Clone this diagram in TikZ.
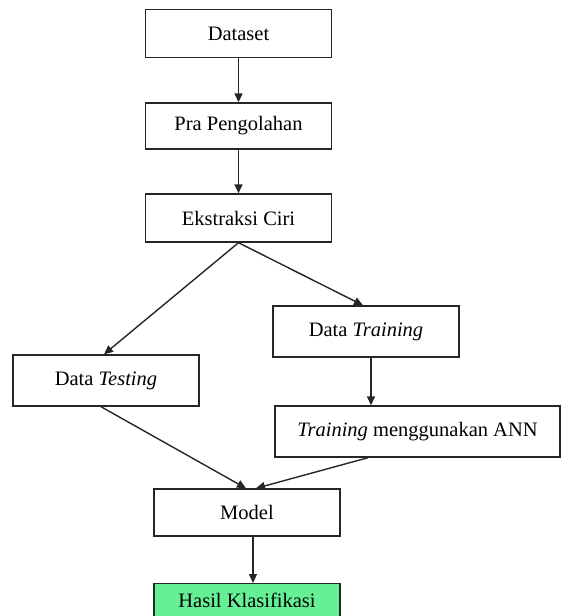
\documentclass[tikz,border=0pt]{standalone}
\usepackage{fontspec}
\setmainfont{Liberation Serif}
\usetikzlibrary{arrows.meta,calc}
\begin{document}
\begin{tikzpicture}[x=1pt,y=-1pt,
  box/.style={draw=black!85,line width=1.4pt,fill=white,minimum width=186pt,minimum height=48pt,inner sep=0pt,font=\fontsize{20.5}{24}\selectfont},
  arr/.style={line width=1.4pt,draw=black!85,-{Triangle[length=9pt,width=8pt]}},
  ln/.style={line width=1.4pt,draw=black!85}]
\useasboundingbox (0,0) rectangle (561,616);
\clip (0,0) rectangle (561,616);
\node[box] (ds) at (238.5,33.5) {Dataset};
\node[box,minimum height=46pt] (pra) at (238.5,126) {Pra Pengolahan};
\node[box] (ek) at (238.5,218) {Ekstraksi Ciri};
\node[box,minimum height=51pt] (dtr) at (366,331.5) {Data \textit{Training}};
\node[box,minimum height=51pt] (dte) at (106,380.5) {Data \textit{Testing}};
\node[box,minimum width=285pt,minimum height=51pt] (ann) at (417.5,431.5) {\textit{Training} menggunakan ANN};
\node[box,minimum height=47pt] (mod) at (247,512.5) {Model};
\node[box,fill={rgb,255:red,102;green,240;blue,150},minimum height=42pt,anchor=north] (has) at (247,583) {\raisebox{8pt}{Hasil Klasifikasi}};
\draw[arr] (ds.south) -- (pra.north);
\draw[arr] (pra.south) -- (ek.north);
\draw[arr] (ek.south) -- ([xshift=-3pt]dtr.north);
\draw[arr] (ek.south) -- ([xshift=-2pt]dte.north);
\draw[arr] ([xshift=5pt]dtr.south) -- ([xshift=5pt]dtr.south |- ann.north);
\draw[arr] ([xshift=-5pt]dte.south) -- ([xshift=-1pt]mod.north);
\draw[arr] ([xshift=-49.5pt]ann.south) -- ([xshift=9pt]mod.north);
\draw[arr] ([xshift=6pt]mod.south) -- ([xshift=6pt]mod.south |- has.north);
\end{tikzpicture}
\end{document}
